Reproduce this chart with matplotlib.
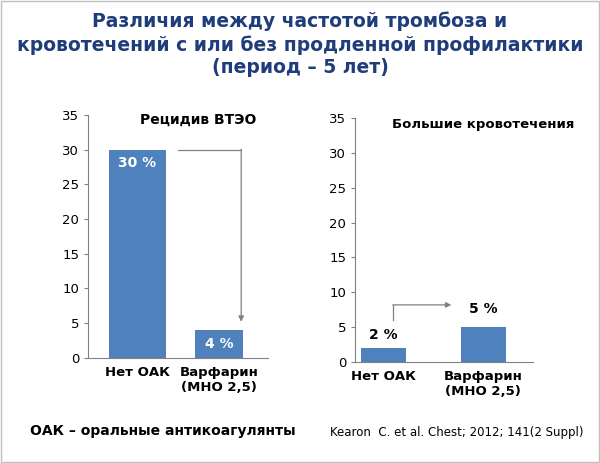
import matplotlib.pyplot as plt

BLUE = "#4f81bd"
TITLE_BLUE = "#1f3d7a"
GRAY = "#808080"

categories = ["Нет ОАК", "Варфарин\n(МНО 2,5)"]
vte_values = [30, 4]
bleed_values = [2, 5]
vte_labels = ["30 %", "4 %"]
bleed_labels = ["2 %", "5 %"]
yticks = [0, 5, 10, 15, 20, 25, 30, 35]

fig = plt.figure(figsize=(6.0, 4.63), dpi=100)
fig.patch.set_facecolor("white")
fig.patches.append(plt.Rectangle((0.002, 0.002), 0.996, 0.996, transform=fig.transFigure,
                                 fill=False, edgecolor="#c0c0c0", lw=1.0))

fig.text(0.5, 0.975,
         "Различия между частотой тромбоза и\nкровотечений с или без продленной профилактики\n(период – 5 лет)",
         ha="center", va="top", fontsize=13.5, fontweight="bold", color=TITLE_BLUE,
         linespacing=1.25)


def style_axes(ax):
    ax.set_ylim(0, 35)
    ax.set_yticks(yticks)
    ax.set_xticks([0, 1])
    ax.set_xticklabels(categories, fontsize=9.5, fontweight="bold")
    ax.tick_params(axis="y", labelsize=9.5, length=3, color=GRAY)
    ax.tick_params(axis="x", length=0, pad=6)
    for s in ["top", "right"]:
        ax.spines[s].set_visible(False)
    for s in ["left", "bottom"]:
        ax.spines[s].set_color(GRAY)


# Левая панель
ax1 = fig.add_axes([0.147, 0.227, 0.30, 0.525])
ax1.bar([0, 1], vte_values, width=[0.7, 0.58], color=BLUE)
ax1.set_xlim(-0.6, 1.6)
style_axes(ax1)
ax1.text(0, vte_values[0] - 2.0, vte_labels[0], ha="center", va="center",
         color="white", fontsize=10, fontweight="bold")
ax1.text(1, vte_values[1] - 2.0, vte_labels[1], ha="center", va="center",
         color="white", fontsize=10, fontweight="bold")
ax1.text(0.75, 35.3, "Рецидив ВТЭО", ha="center", va="top", fontsize=10, fontweight="bold")
ax1.plot([0.5, 1.27], [30, 30], color=GRAY, lw=0.9)
ax1.annotate("", xy=(1.27, 5.2), xytext=(1.27, 30.05),
             arrowprops=dict(arrowstyle="-|>", color=GRAY, lw=0.9, mutation_scale=8,
                             shrinkA=0, shrinkB=0))

# Правая панель
ax2 = fig.add_axes([0.592, 0.218, 0.297, 0.527])
ax2.bar([0, 1], bleed_values, width=[0.45, 0.45], color=BLUE)
ax2.set_xlim(-0.28, 1.5)
style_axes(ax2)
ax2.text(0, bleed_values[0] + 0.9, bleed_labels[0], ha="center", va="bottom",
         fontsize=10, fontweight="bold")
ax2.text(1, bleed_values[1] + 1.6, bleed_labels[1], ha="center", va="bottom",
         fontsize=10, fontweight="bold")
ax2.text(1.0, 35, "Большие кровотечения", ha="center", va="top", fontsize=9.5, fontweight="bold")
ax2.plot([0.1, 0.1], [6.0, 8.2], color=GRAY, lw=0.9)
ax2.annotate("", xy=(0.68, 8.2), xytext=(0.095, 8.2),
             arrowprops=dict(arrowstyle="-|>", color=GRAY, lw=0.9, mutation_scale=8,
                             shrinkA=0, shrinkB=0))

fig.text(0.05, 0.07, "ОАК – оральные антикоагулянты", ha="left", va="center",
         fontsize=10, fontweight="bold")
fig.text(0.55, 0.065, "Kearon  C. et al. Chest; 2012; 141(2 Suppl)", ha="left", va="center",
         fontsize=8.5)

fig.savefig("out.png", dpi=100, facecolor="white")
